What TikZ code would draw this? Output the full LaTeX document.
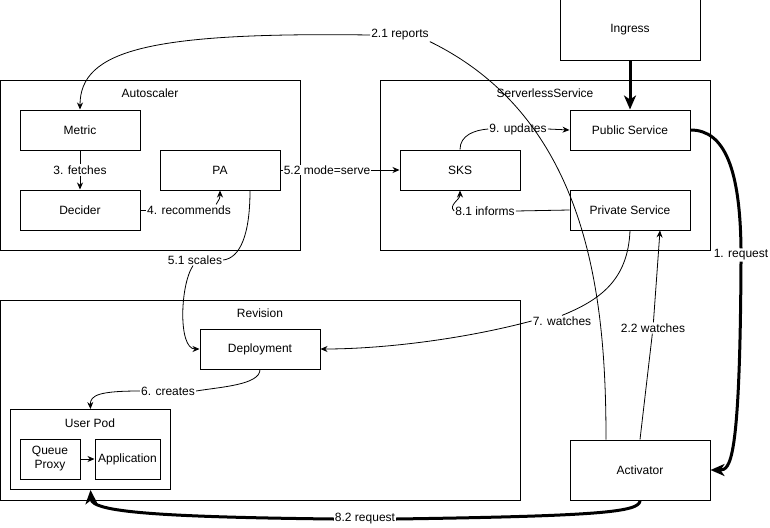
\documentclass[tikz,border=0pt]{standalone}
\usepackage{fontspec}
\setmainfont{Liberation Sans}
\usetikzlibrary{arrows.meta}

\tikzset{
  box/.style={draw, line width=1pt, minimum width=120, minimum height=40, inner sep=0pt},
  group/.style={draw, line width=1pt, anchor=north west, inner sep=0pt},
  lbl/.style={fill=white, inner sep=1pt},
  ln/.style={line width=0.8pt},
  arr/.style={ln, -{Stealth[length=7pt,width=6pt]}},
  fatline/.style={line width=3pt},
  fat/.style={fatline, -{Stealth[length=14pt,width=12pt,inset=4pt]}}
}

\begin{document}
\begin{tikzpicture}[x=1pt,y=-1pt,font=\fontsize{12}{14}\selectfont]
\useasboundingbox (0,0) rectangle (770,527);
% groups
\node[group, minimum width=300, minimum height=170] (asc) at (0,80) {};
\node (asct) at (150,93) {Autoscaler};
\node[group, minimum width=330, minimum height=170] (sls) at (380,80) {};
\node (slst) at (545,93) {ServerlessService};
\node[group, minimum width=520, minimum height=200] (rev) at (0,300) {};
\node (revt) at (260,313) {Revision};
\node[group, minimum width=160, minimum height=80] (pod) at (10,409) {};
\node (podt) at (90,423) {User Pod};
% boxes
\node[box, minimum width=140, minimum height=60] (ingress) at (630,30) {Ingress};
\node[box] (metric) at (80,130) {Metric};
\node[box] (decider) at (80,210) {Decider};
\node[box] (pa) at (220,170) {PA};
\node[box] (pub) at (630,130) {Public Service};
\node[box] (sks) at (460,170) {SKS};
\node[box] (priv) at (630,210) {Private Service};
\node[box] (dep) at (260,349) {Deployment};
\node[box, minimum width=60, align=center] (qp) at (50,459) {Queue\\Proxy};
\node[box, minimum width=65] (app) at (127.5,459) {Application};
\node[box, minimum width=140, minimum height=60] (act) at (640,470) {Activator};
% edge labels
\node[lbl] (l21) at (400,35) {2.1 reports};
\node[lbl] (l3) at (80,170) {3. fetches};
\node[lbl] (l4) at (189,210) {4. recommends};
\node[lbl] (l51) at (195,260) {5.1 scales};
\node[lbl] (l52) at (327,170) {5.2 mode=serve};
\node[lbl] (l9) at (518,129) {9. updates};
\node[lbl] (l81) at (485,211) {8.1 informs};
\node[lbl] (l1) at (741,255) {1. request};
\node[lbl] (l7) at (562,321) {7. watches};
\node[lbl] (l22) at (653,328) {2.2 watches};
\node[lbl] (l6) at (168,391) {6. creates};
\node[lbl] (l82) at (365,519) {8.2 request};
% connectors
\draw[fat] (ingress) -- (pub);
\draw[fatline] (pub.east) .. controls (725,130) and (740,170) .. (l1.north);
\draw[fat] (l1.south) .. controls (740,465) and (730,470) .. (act.east);
\draw[ln] (sks.north) .. controls (460,135) and (475,130) .. (l9.west);
\draw[arr] (l9.east) -- (pub.west);
\draw[ln] (priv.west) -- (l81.east);
\draw[arr] (l81.west) .. controls (448,205) and (460,200) .. (sks.south);
\draw[ln] (pa.east) -- (l52.west);
\draw[arr] (l52.east) -- (sks.west);
\draw[ln] (decider.east) -- (l4.west);
\draw[arr] ([xshift=-16pt]l4.north east) .. controls (220,198) .. (pa.south);
\draw[ln] (metric) -- (l3);
\draw[arr] (l3) -- (decider);
\draw[ln] ([xshift=30pt]pa.south) .. controls (250,235) and (240,258) .. (l51.east);
\draw[arr] ([xshift=-2pt]l51.south) .. controls (180,285) and (178,349) .. (dep.west);
\draw[ln] (priv.south) .. controls (628,280) and (600,300) .. (l7.north);
\draw[arr] (l7.west) .. controls (460,340) and (380,349) .. (dep.east);
\draw[ln] (act.north) -- (l22);
\draw[arr] (l22) -- ([xshift=30pt]priv.south);
\draw[ln] ([xshift=-34pt]act.north) .. controls (606,300) and (590,120) .. (l21.south east);
\draw[arr] (l21.west) .. controls (150,32) and (80,50) .. (metric.north);
\draw[ln] (dep.south) .. controls (260,385) and (220,387) .. (l6.east);
\draw[arr] (l6.west) .. controls (100,391) and (90,395) .. (pod.north);
\draw[arr] (qp) -- (app);
\draw[fatline] (act.south) .. controls (640,512) and (600,516) .. (l82.east);
\draw[fat] (l82.west) .. controls (160,517) and (92,512) .. (pod.south);
\end{tikzpicture}
\end{document}
